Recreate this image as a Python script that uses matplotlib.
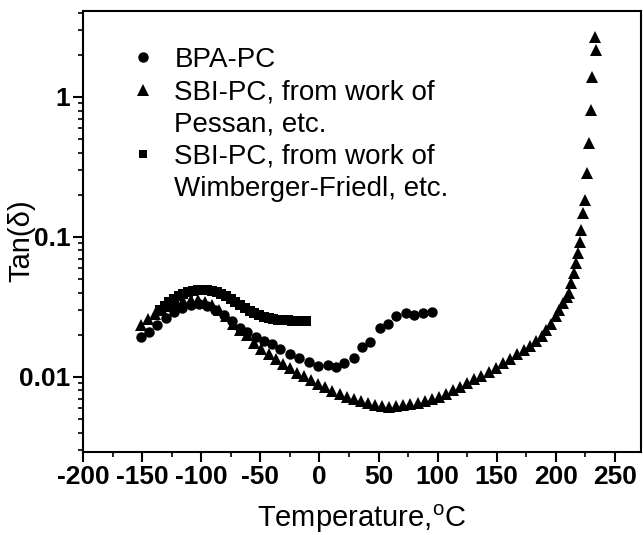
import matplotlib
matplotlib.use("Agg")
import matplotlib.pyplot as plt
from matplotlib.lines import Line2D
from matplotlib.ticker import LogLocator, FixedLocator, FixedFormatter, MultipleLocator, NullFormatter

plt.rcParams['font.family'] = ['Liberation Sans', 'DejaVu Sans']
plt.rcParams['axes.unicode_minus'] = False

# BPA-PC (circles)
bpa_t = [-151, -144, -137, -130, -123, -116, -109, -102, -95, -88, -81, -74, -67, -61,
         -54, -47, -40, -33, -25, -17, -9, -1, 7, 14, 21, 29, 36, 43, 51, 58, 65, 73,
         80, 88, 95]
bpa_v = [0.0193, 0.021, 0.0235, 0.0265, 0.029, 0.031, 0.0325, 0.033, 0.032, 0.030,
         0.0275, 0.025, 0.0225, 0.021, 0.0194, 0.018, 0.0172, 0.0157, 0.0145, 0.0137,
         0.0127, 0.0119, 0.0121, 0.0118, 0.0125, 0.0137, 0.0163, 0.0178, 0.0222,
         0.0237, 0.027, 0.0286, 0.0275, 0.0286, 0.029]

# SBI-PC, Pessan (triangles)
pes_t = [-151, -145, -139, -133, -127, -121, -115, -109, -103, -97, -91, -85, -79, -73,
         -67, -61, -55, -49, -43, -37, -31, -25, -19, -13, -7, -1, 5, 11, 17, 23, 29,
         35, 41, 47, 53, 59, 65, 71, 77, 83, 89, 95, 101, 107, 113, 119, 125, 131, 137,
         143, 149, 155, 161, 167, 173, 178, 183, 188, 192, 196, 200, 203, 206, 209, 211,
         213, 215, 217, 218.6, 220, 221, 223, 224.6, 226, 228, 229.7, 230.5, 234, 233]
pes_v = [0.0235, 0.026, 0.028, 0.030, 0.032, 0.034, 0.035, 0.0355, 0.0352, 0.034,
         0.0327, 0.030, 0.027, 0.024, 0.0215, 0.0198, 0.0175, 0.0158, 0.0145, 0.0134,
         0.0124, 0.0115, 0.0107, 0.0101, 0.0095, 0.0089, 0.0084, 0.0079, 0.0075,
         0.0072, 0.0069, 0.0067, 0.0065, 0.0063, 0.0062, 0.0061, 0.0062, 0.0063,
         0.0064, 0.0065, 0.0067, 0.0069, 0.0072, 0.0076, 0.008, 0.0085, 0.009, 0.0096,
         0.0102, 0.0108, 0.0116, 0.0125, 0.0135, 0.0145, 0.0155, 0.0166, 0.018, 0.0195,
         0.0215, 0.024, 0.027, 0.030, 0.0335, 0.037, 0.040, 0.047, 0.055, 0.065, 0.077,
         0.092, 0.112, 0.148, 0.184, 0.286, 0.469, 0.81, 1.39, 2.17, 2.68]

# SBI-PC, Wimberger-Friedl (squares)
wim_t = [-135, -131, -127, -123, -119, -115, -111, -107, -103, -99, -95, -91, -87, -83,
         -79, -75, -71, -67, -63, -59, -55, -51, -47, -43, -39, -35, -31, -27, -23, -19,
         -15, -11]
wim_v = [0.030, 0.032, 0.034, 0.036, 0.0378, 0.0393, 0.0405, 0.0413, 0.0418, 0.042,
         0.0418, 0.0412, 0.0402, 0.039, 0.0376, 0.036, 0.0343, 0.0326, 0.031, 0.0296,
         0.0284, 0.0275, 0.0268, 0.0263, 0.0259, 0.0256, 0.0254, 0.0253, 0.0252,
         0.0252, 0.0251, 0.0251]

labels = ["BPA-PC", "SBI-PC, from work of", "Pessan, etc.",
          "SBI-PC, from work of", "Wimberger-Friedl, etc."]

fig = plt.figure(figsize=(6.43, 5.35), dpi=100)
ax = fig.add_axes([0.129, 0.155, 0.868, 0.824])

ax.plot(wim_t, wim_v, 's', color='black', ms=6.5, mew=0)
ax.plot(bpa_t, bpa_v, 'o', color='black', ms=7.5, mew=0)
ax.plot(pes_t, pes_v, '^', color='black', ms=8.5, mew=0)

ax.set_yscale('log')
ax.set_xlim(-200, 272)
ax.set_ylim(0.0029, 4.1)

ax.xaxis.set_major_locator(MultipleLocator(50))
ax.xaxis.set_minor_locator(MultipleLocator(25))
ax.yaxis.set_major_locator(FixedLocator([0.01, 0.1, 1]))
ax.yaxis.set_major_formatter(FixedFormatter(["0.01", "0.1", "1"]))
ax.yaxis.set_minor_locator(LogLocator(base=10, subs=range(2, 10)))
ax.yaxis.set_minor_formatter(NullFormatter())

ax.tick_params(which='major', direction='out', length=7, width=1.5, labelsize=19, pad=2)
ax.tick_params(which='minor', direction='out', length=3.5, width=1.2)
for lab in ax.get_xticklabels() + ax.get_yticklabels():
    lab.set_fontweight('bold')
for s in ax.spines.values():
    s.set_linewidth(1.5)

ax.set_xlabel("Temperature,$^{\\mathregular{o}}$C", fontsize=21, labelpad=10)
ax.set_ylabel("Tan(\u03b4)", fontsize=21)
ax.yaxis.set_label_coords(-0.085, 0.48)

blank = Line2D([], [], linestyle='none', marker=None)
handles = [Line2D([], [], marker='o', color='black', ls='none', ms=7.5, mew=0),
           Line2D([], [], marker='^', color='black', ls='none', ms=8.5, mew=0),
           blank,
           Line2D([], [], marker='s', color='black', ls='none', ms=5.5, mew=0),
           blank]
ax.legend(handles, labels, loc='upper left', bbox_to_anchor=(0.057, 0.95),
          frameon=False, fontsize=20, handlelength=1.0, handletextpad=0.65,
          labelspacing=0.22, borderpad=0)

fig.savefig("out.png", dpi=100)
